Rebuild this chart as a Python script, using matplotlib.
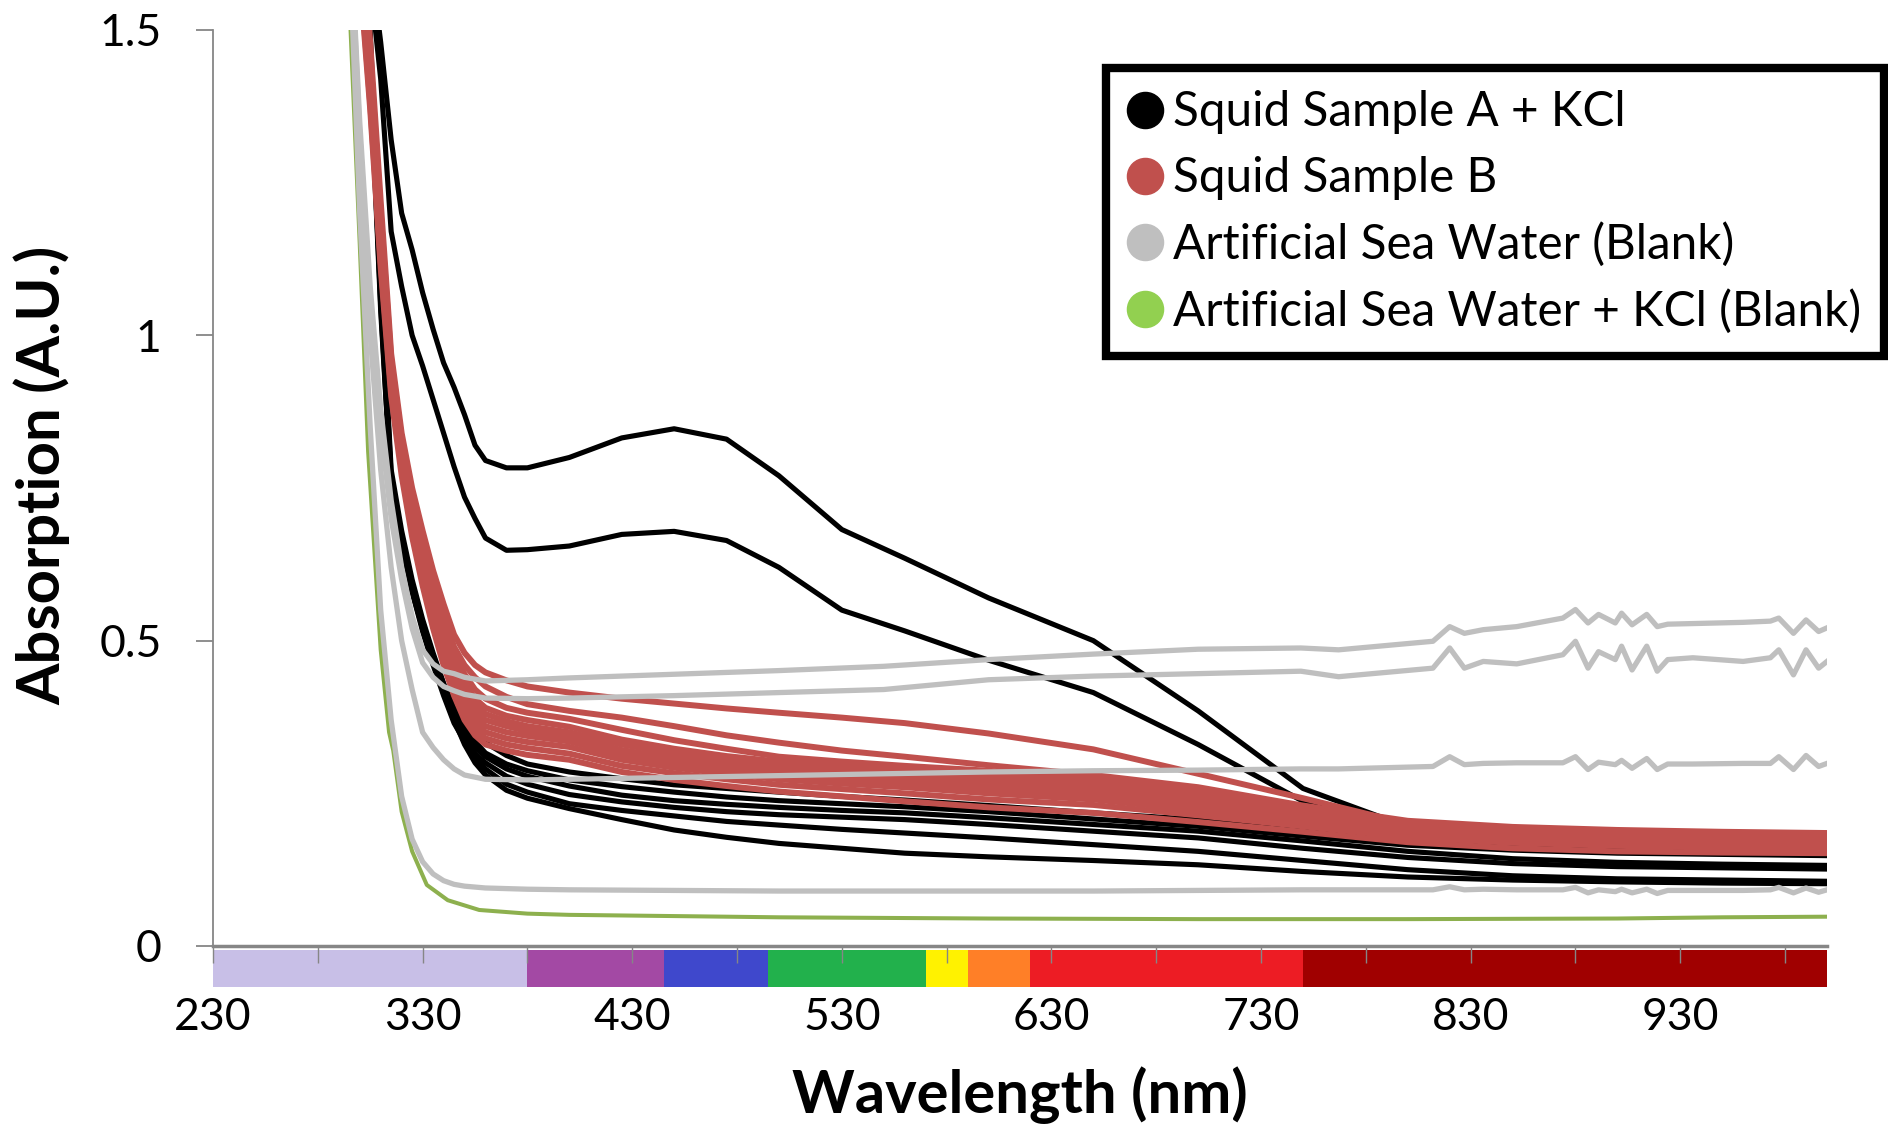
import matplotlib
matplotlib.use("Agg")
import matplotlib.pyplot as plt
import matplotlib.transforms as mtransforms
from matplotlib.patches import Rectangle
from matplotlib.lines import Line2D

plt.rcParams['font.family'] = ['Lato', 'DejaVu Sans']

# ---- data ----
# wavelength grid used for the squid samples (nm)
wl_squid = [290, 295, 300, 305, 310, 315, 320, 325, 330, 335, 340, 345, 350, 355,
            360, 370, 380, 400, 425, 450, 475, 500, 530, 560, 600, 650, 700, 750,
            800, 850, 900, 950, 1000]

# Squid Sample A + KCl (black)
squid_a_1 = [2.3, 2.05, 1.82, 1.62, 1.48, 1.32, 1.2, 1.14, 1.07, 1.01, 0.955, 0.915, 0.87, 0.82,
             0.795, 0.783, 0.783, 0.8, 0.832, 0.847, 0.83, 0.77, 0.682, 0.635, 0.57, 0.5, 0.385,
             0.258, 0.195, 0.18, 0.172, 0.168, 0.165]
squid_a_2 = [2.25, 2.0, 1.78, 1.58, 1.42, 1.17, 1.08, 1.0, 0.95, 0.895, 0.84, 0.785, 0.735, 0.7,
             0.668, 0.648, 0.649, 0.655, 0.674, 0.679, 0.664, 0.62, 0.55, 0.516, 0.468, 0.415,
             0.33, 0.237, 0.185, 0.17, 0.162, 0.158, 0.155]
squid_a_3 = [2.15, 1.92, 1.7, 1.5, 1.1, 0.78, 0.68, 0.6, 0.535, 0.48, 0.43, 0.39, 0.365, 0.345,
             0.333, 0.312, 0.298, 0.285, 0.274, 0.264, 0.258, 0.252, 0.245, 0.239, 0.23, 0.218,
             0.207, 0.192, 0.175, 0.168, 0.162, 0.158, 0.155]
squid_a_4 = [2.13, 1.9, 1.68, 1.48, 1.08, 0.77, 0.67, 0.59, 0.525, 0.47, 0.42, 0.38, 0.355, 0.335,
             0.316, 0.298, 0.287, 0.272, 0.261, 0.252, 0.244, 0.238, 0.233, 0.228, 0.22, 0.208,
             0.196, 0.18, 0.165, 0.157, 0.152, 0.15, 0.148]
squid_a_5 = [2.12, 1.88, 1.66, 1.46, 1.07, 0.76, 0.66, 0.58, 0.52, 0.465, 0.415, 0.37, 0.345, 0.325,
             0.31, 0.29, 0.278, 0.262, 0.247, 0.238, 0.232, 0.227, 0.222, 0.218, 0.21, 0.199,
             0.188, 0.172, 0.155, 0.143, 0.137, 0.134, 0.132]
squid_a_6 = [2.1, 1.87, 1.65, 1.45, 1.06, 0.76, 0.66, 0.58, 0.515, 0.46, 0.41, 0.365, 0.335, 0.315,
             0.3, 0.278, 0.265, 0.248, 0.236, 0.227, 0.22, 0.215, 0.211, 0.207, 0.199, 0.188,
             0.177, 0.16, 0.145, 0.135, 0.13, 0.128, 0.126]
squid_a_7 = [2.1, 1.86, 1.64, 1.44, 1.05, 0.75, 0.66, 0.585, 0.52, 0.465, 0.42, 0.38, 0.34, 0.31,
             0.29, 0.265, 0.252, 0.233, 0.222, 0.213, 0.204, 0.198, 0.191, 0.185, 0.177, 0.166,
             0.155, 0.14, 0.125, 0.115, 0.11, 0.108, 0.106]
squid_a_8 = [2.08, 1.85, 1.63, 1.43, 1.04, 0.75, 0.665, 0.59, 0.53, 0.475, 0.43, 0.37, 0.33, 0.3,
             0.28, 0.255, 0.242, 0.225, 0.207, 0.19, 0.178, 0.168, 0.16, 0.152, 0.146, 0.14,
             0.133, 0.122, 0.113, 0.108, 0.105, 0.103, 0.102]
squid_a = [squid_a_1, squid_a_2, squid_a_3, squid_a_4, squid_a_5, squid_a_6, squid_a_7, squid_a_8]

# Squid Sample B (red)
squid_b_1 = [2.2, 1.95, 1.7, 1.48, 1.22, 0.97, 0.84, 0.75, 0.68, 0.615, 0.56, 0.51, 0.48, 0.46,
             0.448, 0.435, 0.425, 0.415, 0.405, 0.397, 0.389, 0.382, 0.374, 0.365, 0.348, 0.322,
             0.282, 0.242, 0.2, 0.19, 0.186, 0.184, 0.183]
squid_b_2 = [2.2, 1.93, 1.68, 1.46, 1.2, 0.96, 0.83, 0.74, 0.67, 0.6, 0.54, 0.49, 0.46, 0.44,
             0.425, 0.408, 0.396, 0.385, 0.374, 0.36, 0.345, 0.333, 0.32, 0.31, 0.296, 0.28,
             0.26, 0.23, 0.205, 0.195, 0.19, 0.187, 0.185]
squid_b_3 = [2.18, 1.92, 1.66, 1.44, 1.18, 0.95, 0.83, 0.73, 0.66, 0.59, 0.53, 0.48, 0.445, 0.42,
             0.405, 0.39, 0.382, 0.372, 0.354, 0.337, 0.323, 0.31, 0.302, 0.295, 0.287, 0.272,
             0.252, 0.224, 0.2, 0.19, 0.186, 0.184, 0.182]
squid_b_4 = [2.17, 1.9, 1.65, 1.43, 1.17, 0.95, 0.82, 0.73, 0.65, 0.58, 0.52, 0.47, 0.43, 0.405,
             0.39, 0.377, 0.37, 0.359, 0.338, 0.323, 0.311, 0.302, 0.295, 0.289, 0.28, 0.266,
             0.246, 0.22, 0.198, 0.188, 0.184, 0.181, 0.18]
squid_b_5 = [2.16, 1.9, 1.64, 1.42, 1.16, 0.94, 0.82, 0.72, 0.64, 0.57, 0.51, 0.46, 0.42, 0.395,
             0.38, 0.368, 0.36, 0.35, 0.33, 0.315, 0.304, 0.295, 0.288, 0.282, 0.272, 0.259,
             0.24, 0.216, 0.195, 0.186, 0.181, 0.179, 0.178]
squid_b_6 = [2.15, 1.88, 1.63, 1.41, 1.15, 0.94, 0.81, 0.71, 0.63, 0.56, 0.5, 0.45, 0.41, 0.385,
             0.37, 0.36, 0.352, 0.343, 0.321, 0.307, 0.297, 0.288, 0.281, 0.275, 0.265, 0.253,
             0.234, 0.212, 0.192, 0.183, 0.178, 0.176, 0.175]
squid_b_7 = [2.15, 1.87, 1.62, 1.4, 1.14, 0.93, 0.8, 0.7, 0.62, 0.55, 0.49, 0.44, 0.4, 0.375,
             0.36, 0.35, 0.344, 0.335, 0.313, 0.3, 0.29, 0.281, 0.274, 0.268, 0.258, 0.247,
             0.228, 0.208, 0.188, 0.18, 0.175, 0.173, 0.172]
squid_b_8 = [2.14, 1.86, 1.61, 1.39, 1.13, 0.92, 0.79, 0.69, 0.61, 0.54, 0.48, 0.43, 0.39, 0.365,
             0.35, 0.34, 0.334, 0.326, 0.305, 0.292, 0.282, 0.273, 0.266, 0.26, 0.25, 0.24,
             0.222, 0.202, 0.183, 0.175, 0.171, 0.169, 0.168]
squid_b_9 = [2.13, 1.85, 1.6, 1.38, 1.12, 0.91, 0.78, 0.68, 0.6, 0.53, 0.47, 0.42, 0.38, 0.355,
             0.34, 0.33, 0.324, 0.315, 0.295, 0.283, 0.273, 0.264, 0.257, 0.25, 0.24, 0.231,
             0.214, 0.196, 0.178, 0.169, 0.164, 0.161, 0.16]
squid_b_10 = [2.12, 1.84, 1.59, 1.37, 1.11, 0.9, 0.77, 0.67, 0.59, 0.52, 0.46, 0.41, 0.37, 0.345,
              0.33, 0.32, 0.313, 0.305, 0.285, 0.272, 0.262, 0.253, 0.245, 0.237, 0.227, 0.218,
              0.203, 0.187, 0.17, 0.16, 0.155, 0.153, 0.152]
squid_b = [squid_b_1, squid_b_2, squid_b_3, squid_b_4, squid_b_5, squid_b_6, squid_b_7,
           squid_b_8, squid_b_9, squid_b_10]

# Artificial Sea Water blanks (grey) - finer grid in the NIR for the noise
wl_asw = [290, 295, 300, 305, 310, 315, 320, 325, 330, 335, 340, 345, 350,
          360, 380, 400, 450, 500, 550, 600, 650, 700,
          749, 767, 812, 820, 827, 836, 852, 874, 880, 886, 891, 899, 902, 907, 914,
          919, 924, 936, 960, 973, 977, 984, 990, 996, 1000]
asw_1 = [2.0, 1.7, 1.35, 1.08, 0.88, 0.73, 0.62, 0.54, 0.485, 0.462, 0.45, 0.446, 0.44,
         0.434, 0.436, 0.439, 0.445, 0.451, 0.458, 0.469, 0.478, 0.486,
         0.488, 0.485, 0.499, 0.523, 0.512, 0.518, 0.523, 0.537, 0.551, 0.529, 0.543, 0.529,
         0.545, 0.526, 0.543, 0.523, 0.527, 0.528, 0.53, 0.532, 0.537, 0.512, 0.534, 0.515, 0.521]
asw_2 = [2.0, 1.7, 1.33, 1.05, 0.85, 0.7, 0.6, 0.52, 0.464, 0.44, 0.425, 0.418, 0.412,
         0.406, 0.405, 0.406, 0.41, 0.415, 0.42, 0.436, 0.442, 0.446,
         0.45, 0.441, 0.455, 0.488, 0.455, 0.466, 0.462, 0.477, 0.499, 0.455, 0.482, 0.469,
         0.491, 0.452, 0.491, 0.45, 0.469, 0.472, 0.466, 0.472, 0.485, 0.444, 0.485, 0.455, 0.466]
asw_3 = [2.0, 1.7, 1.3, 1.0, 0.78, 0.62, 0.5, 0.42, 0.35, 0.325, 0.305, 0.29, 0.28,
         0.273, 0.272, 0.273, 0.276, 0.279, 0.282, 0.285, 0.287, 0.288,
         0.29, 0.29, 0.294, 0.31, 0.297, 0.299, 0.3, 0.3, 0.31, 0.289, 0.301, 0.297,
         0.304, 0.291, 0.307, 0.289, 0.298, 0.298, 0.299, 0.299, 0.31, 0.289, 0.312, 0.294, 0.299]
asw_4 = [2.0, 1.65, 1.2, 0.85, 0.55, 0.37, 0.245, 0.175, 0.138, 0.118, 0.107, 0.101, 0.098,
         0.095, 0.093, 0.092, 0.091, 0.09, 0.09, 0.09, 0.09, 0.091,
         0.092, 0.092, 0.092, 0.097, 0.092, 0.093, 0.092, 0.092, 0.096, 0.087, 0.092, 0.089,
         0.093, 0.087, 0.093, 0.086, 0.091, 0.091, 0.091, 0.092, 0.096, 0.087, 0.095, 0.088, 0.092]
asw = [asw_1, asw_2, asw_3, asw_4]

# Artificial Sea Water + KCl blank (green)
wl_asw_kcl = [290, 295, 300, 304, 310, 314, 316, 320, 325, 332, 342, 357, 380, 400,
              450, 500, 600, 700, 800, 900, 950, 1000]
asw_kcl = [2.0, 1.55, 1.15, 0.81, 0.485, 0.35, 0.32, 0.22, 0.155, 0.10, 0.075, 0.059, 0.053,
           0.051, 0.049, 0.047, 0.045, 0.044, 0.044, 0.045, 0.047, 0.048]

# visible spectrum strip under the axis
band_edges = [230, 380, 445, 495, 570, 590, 620, 750, 1000]
band_colors = ['#C8BFE7', '#A349A4', '#3F48CC', '#22B14C', '#FFF200', '#FF7F27',
               '#ED1C24', '#A00000']

major_ticks = [230, 330, 430, 530, 630, 730, 830, 930]
minor_ticks = [280, 380, 480, 580, 680, 780, 880, 980]
y_ticks = [0, 0.5, 1, 1.5]
y_ticklabels = ['0', '0.5', '1', '1.5']

series_names = ['Squid Sample A + KCl', 'Squid Sample B',
                'Artificial Sea Water (Blank)', 'Artificial Sea Water + KCl (Blank)']
legend_colors = ['#000000', '#C0504D', '#BFBFBF', '#92D050']

# ---- figure ----
fig = plt.figure(figsize=(18.88, 11.25), dpi=100)
ax = fig.add_axes([213 / 1888, 1 - 946 / 1125, 1614 / 1888, 916 / 1125])

ax.plot(wl_asw_kcl, asw_kcl, color='#8DB04E', lw=2.9, solid_joinstyle='round', zorder=2)
for ys in squid_a:
    ax.plot(wl_squid, ys, color='black', lw=3.7, solid_joinstyle='round', zorder=3)
for ys in squid_b:
    ax.plot(wl_squid, ys, color='#C0504D', lw=4.3, solid_joinstyle='round', zorder=4)
for ys in asw:
    ax.plot(wl_asw, ys, color='#BFBFBF', lw=3.8, solid_joinstyle='round', zorder=5)

ax.set_xlim(230, 1000)
ax.set_ylim(0, 1.5)

# spectrum strip
trans = mtransforms.blended_transform_factory(ax.transData, ax.transAxes)
for x0, x1, c in zip(band_edges[:-1], band_edges[1:], band_colors):
    ax.add_patch(Rectangle((x0, -0.0045), x1 - x0, -0.0405, transform=trans,
                           facecolor=c, edgecolor='none', clip_on=False, zorder=1))

for s in ['top', 'right']:
    ax.spines[s].set_visible(False)
ax.spines['left'].set_color('#868686')
ax.spines['left'].set_linewidth(1.3)
ax.spines['bottom'].set_color('#868686')
ax.spines['bottom'].set_linewidth(2.5)

ax.set_xticks(major_ticks)
ax.set_xticks(minor_ticks, minor=True)
ax.set_yticks(y_ticks)
ax.set_yticklabels(y_ticklabels)
ax.tick_params(axis='x', which='both', direction='out', length=12, width=1,
               color='#868686', labelsize=32, pad=25)
ax.tick_params(axis='y', direction='out', length=12, width=1.3, color='#868686',
               labelsize=32, pad=25)

ax.set_xlabel('Wavelength (nm)', fontsize=43, fontweight='bold', va='center')
ax.xaxis.set_label_coords(0.5, -0.1625)
ax.set_ylabel('Absorption (A.U.)', fontsize=43, fontweight='bold', va='center', ha='center')
ax.yaxis.set_label_coords(-0.106, 0.5135)

handles = [Line2D([], [], marker='o', linestyle='', markersize=26, color=c) for c in legend_colors]
leg = fig.legend(handles, series_names, loc='upper right',
                 bbox_to_anchor=(1884 / 1888, 1 - 68 / 1125), frameon=True, fancybox=False,
                 edgecolor='black', framealpha=1, fontsize=34.3, borderaxespad=0,
                 handlelength=0.7, handletextpad=0.25, labelspacing=0.46, borderpad=0.47)
leg.get_frame().set_linewidth(6)

fig.savefig('out.png', dpi=100)
